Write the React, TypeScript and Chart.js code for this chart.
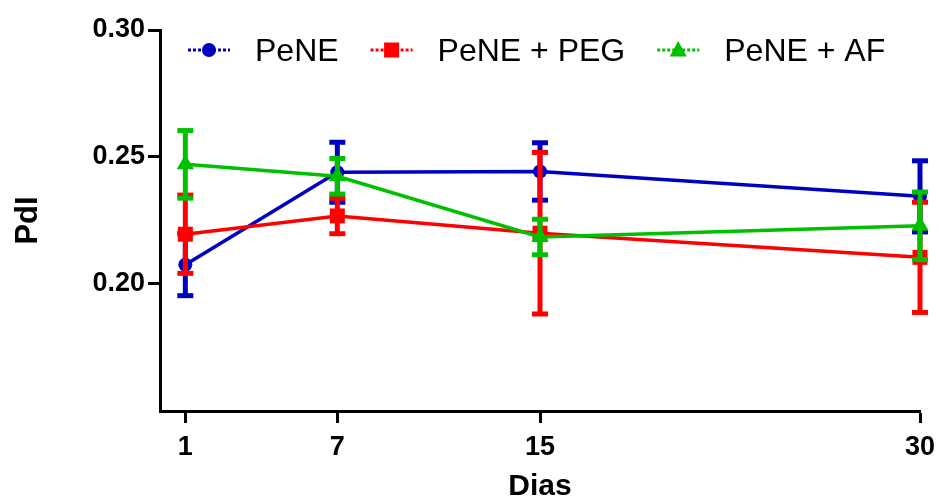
import React, { useEffect, useRef } from 'react';
import { Chart, registerables } from 'chart.js';

Chart.register(...registerables);

const days = [1, 7, 15, 30];
const xTickValues = [1, 7, 15, 30];
const yTickValues = [0.2, 0.25, 0.3];
const seriesNames = ['PeNE', 'PeNE + PEG', 'PeNE + AF'];
const peneMean = [0.2076, 0.2440, 0.2443, 0.2345];
const peneErr = [0.0122, 0.0118, 0.0113, 0.0140];
const pegMean = [0.2196, 0.2268, 0.2200, 0.2105];
const pegErr = [0.0154, 0.0070, 0.0318, 0.0217];
const afMean = [0.2471, 0.2424, 0.2185, 0.2229];
const afErr = [0.0133, 0.0070, 0.0070, 0.0133];

const FONT = "'Liberation Sans', Arial, Helvetica, sans-serif";
const BLUE = '#0000C0';
const RED = '#FF0000';
const GREEN = '#00C000';

const colors = [BLUE, RED, GREEN];
const markers = ['circle', 'rect', 'triangle'];

function drawMarker(ctx: CanvasRenderingContext2D, style: string, x: number, y: number) {
  ctx.beginPath();
  if (style === 'circle') {
    ctx.arc(x, y, 7, 0, Math.PI * 2);
  } else if (style === 'rect') {
    ctx.rect(x - 7.5, y - 7.5, 15, 15);
  } else {
    ctx.moveTo(x, y - 9);
    ctx.lineTo(x + 8.5, y + 6.5);
    ctx.lineTo(x - 8.5, y + 6.5);
    ctx.closePath();
  }
  ctx.fill();
}

const errorBarPlugin = {
  id: 'errorBars',
  beforeDatasetDraw(chart: any, args: any) {
    const ds = chart.data.datasets[args.index];
    const meta = args.meta;
    const yScale = chart.scales.y;
    const ctx = chart.ctx as CanvasRenderingContext2D;
    ctx.save();
    ctx.strokeStyle = ds.borderColor;
    ctx.fillStyle = ds.borderColor;
    meta.data.forEach((pt: any, i: number) => {
      const v = ds.data[i].y;
      const e = ds.errors[i];
      const yTop = yScale.getPixelForValue(v + e);
      const yBot = yScale.getPixelForValue(v - e);
      ctx.lineWidth = 5;
      ctx.beginPath();
      ctx.moveTo(pt.x, yTop);
      ctx.lineTo(pt.x, yBot);
      ctx.stroke();
      ctx.fillRect(pt.x - 8, yTop - 2.5, 16, 5);
      ctx.fillRect(pt.x - 8, yBot - 2.5, 16, 5);
    });
    ctx.restore();
  },
};

const legendPlugin = {
  id: 'customLegend',
  afterDraw(chart: any) {
    const ctx = chart.ctx as CanvasRenderingContext2D;
    const area = chart.chartArea;
    ctx.save();
    ctx.font = `32px ${FONT}`;
    ctx.textBaseline = 'alphabetic';
    let x = area.left + 28;
    const yMid = 50;
    seriesNames.forEach((name, i) => {
      ctx.strokeStyle = colors[i];
      ctx.fillStyle = colors[i];
      ctx.lineWidth = 3;
      ctx.setLineDash([3, 2]);
      ctx.beginPath();
      ctx.moveTo(x, yMid);
      ctx.lineTo(x + 42, yMid);
      ctx.stroke();
      ctx.setLineDash([]);
      drawMarker(ctx, markers[i], x + 21, yMid);
      x += 42 + 25;
      ctx.fillStyle = '#000';
      ctx.fillText(name, x, 61);
      x += ctx.measureText(name).width + 32;
    });
    ctx.restore();
  },
};

function makeData(means: number[]) {
  return days.map((d, i) => ({ x: d, y: means[i] }));
}

export default function App() {
  const canvasRef = useRef<HTMLCanvasElement | null>(null);

  useEffect(() => {
    if (!canvasRef.current) return;
    const mk = (label: string, means: number[], errs: number[], color: string, style: string, radius: number, order: number) => ({
      label,
      data: makeData(means),
      errors: errs,
      borderColor: color,
      backgroundColor: color,
      borderWidth: 3.5,
      pointStyle: style,
      pointRadius: radius,
      pointBorderWidth: 0,
      pointBackgroundColor: color,
      pointBorderColor: color,
      tension: 0,
      clip: false,
      order,
    });
    const chart = new Chart(canvasRef.current, {
      type: 'line',
      data: {
        datasets: [
          mk(seriesNames[0], peneMean, peneErr, BLUE, 'circle', 7, 2),
          mk(seriesNames[1], pegMean, pegErr, RED, 'rect', 10.6, 1),
          mk(seriesNames[2], afMean, afErr, GREEN, 'triangle', 10, 0),
        ] as any,
      },
      options: {
        animation: false,
        responsive: false,
        events: [],
        layout: { padding: { top: 30, right: 19, left: 0, bottom: 0 } },
        plugins: {
          legend: { display: false },
          tooltip: { enabled: false },
        },
        scales: {
          x: {
            type: 'linear',
            min: 0,
            max: 30,
            afterBuildTicks: (s: any) => {
              s.ticks = xTickValues.map((v) => ({ value: v }));
            },
            afterFit: (s: any) => {
              s.height = 85;
              s.paddingLeft = 0;
              s.paddingRight = 0;
            },
            grid: {
              drawOnChartArea: false,
              drawTicks: true,
              tickLength: 12,
              tickWidth: 3,
              tickColor: '#000',
              color: '#000',
            },
            border: { display: true, color: '#000', width: 3 },
            ticks: {
              color: '#000',
              padding: 8,
              maxRotation: 0,
              font: { family: FONT, weight: 'bold', size: 27 },
              callback: (v: any) => String(v),
            },
            title: {
              display: true,
              text: 'Dias',
              color: '#000',
              font: { family: FONT, weight: 'bold', size: 30, lineHeight: 0.65 },
              padding: { top: 0, bottom: 0 },
            },
          },
          y: {
            type: 'linear',
            min: 0.15,
            max: 0.3,
            afterBuildTicks: (s: any) => {
              s.ticks = yTickValues.map((v) => ({ value: v }));
            },
            afterFit: (s: any) => {
              s.width = 160;
            },
            grid: {
              drawOnChartArea: false,
              drawTicks: true,
              tickLength: 12,
              tickWidth: 3,
              tickColor: '#000',
              color: '#000',
            },
            border: { display: true, color: '#000', width: 3 },
            ticks: {
              color: '#000',
              padding: 3,
              font: { family: FONT, weight: 'bold', size: 27 },
              callback: (v: any) => Number(v).toFixed(2),
            },
            title: {
              display: true,
              text: 'PdI',
              color: '#000',
              font: { family: FONT, weight: 'bold', size: 31, lineHeight: 1.2 },
              padding: { top: 10, bottom: 0 },
            },
          },
        },
      } as any,
      plugins: [errorBarPlugin, legendPlugin],
    });
    return () => chart.destroy();
  }, []);

  return (
    <div style={{ position: 'fixed', left: 0, top: 0, width: 939, height: 496, background: '#fff' }}>
      <canvas ref={canvasRef} width={939} height={496} style={{ display: 'block', width: 939, height: 496 }} />
    </div>
  );
}
